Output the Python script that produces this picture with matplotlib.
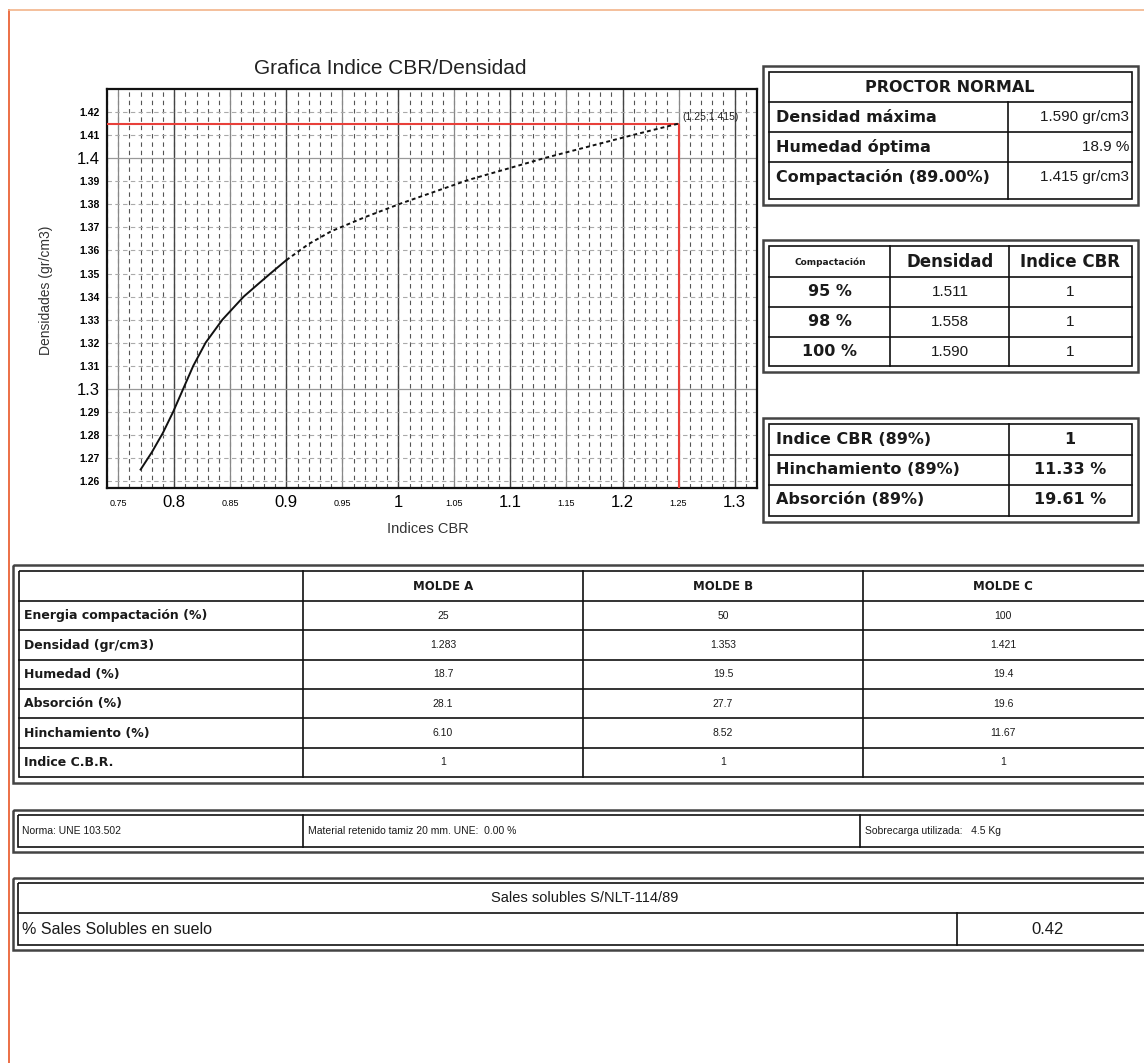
import matplotlib
matplotlib.use('Agg')
import matplotlib.pyplot as plt
from matplotlib.patches import Rectangle
import numpy as np

# curve CBR / densidad
cbr_x = [0.770, 0.780, 0.790, 0.799, 0.808, 0.817, 0.828, 0.843, 0.862, 0.875, 0.887,
         0.900, 0.920, 0.940, 0.970, 1.003, 1.062, 1.130, 1.208, 1.250]
dens_y = [1.265, 1.2725, 1.281, 1.290, 1.300, 1.310, 1.320, 1.330, 1.340, 1.3455, 1.3505,
          1.3558, 1.3628, 1.3683, 1.3744, 1.3805, 1.3905, 1.4000, 1.4099, 1.4150]
n_solid = 12  # first points drawn as solid line, rest dotted
comp_cbr = 1.25
comp_dens = 1.415
comp_label = '(1.25;1.415)'

x_major = [0.8, 0.9, 1.0, 1.1, 1.2, 1.3]
x_major_lbl = ['0.8', '0.9', '1', '1.1', '1.2', '1.3']
x_minor = [0.75, 0.85, 0.95, 1.05, 1.15, 1.25]
x_minor_lbl = ['0.75', '0.85', '0.95', '1.05', '1.15', '1.25']
y_major = [1.3, 1.4]
y_major_lbl = ['1.3', '1.4']
y_minor = [1.26, 1.27, 1.28, 1.29, 1.31, 1.32, 1.33, 1.34, 1.35, 1.36, 1.37, 1.38, 1.39, 1.41, 1.42]

proctor_labels = ['Densidad máxima', 'Humedad óptima', 'Compactación (89.00%)']
proctor_values = ['1.590 gr/cm3', '18.9 %', '1.415 gr/cm3']

comp_pct = ['95 %', '98 %', '100 %']
comp_dens_vals = ['1.511', '1.558', '1.590']
comp_cbr_vals = ['1', '1', '1']

res_labels = ['Indice CBR (89%)', 'Hinchamiento (89%)', 'Absorción (89%)']
res_values = ['1', '11.33 %', '19.61 %']

molde_names = ['MOLDE A', 'MOLDE B', 'MOLDE C']
molde_rows = ['Energia compactación (%)', 'Densidad (gr/cm3)', 'Humedad (%)',
              'Absorción (%)', 'Hinchamiento (%)', 'Indice C.B.R.']
molde_a = ['25', '1.283', '18.7', '28.1', '6.10', '1']
molde_b = ['50', '1.353', '19.5', '27.7', '8.52', '1']
molde_c = ['100', '1.421', '19.4', '19.6', '11.67', '1']

norma_texts = ['Norma: UNE 103.502', 'Material retenido tamiz 20 mm. UNE:  0.00 %',
               'Sobrecarga utilizada:   4.5 Kg']
sales_title = 'Sales solubles S/NLT-114/89'
sales_label = '% Sales Solubles en suelo'
sales_value = '0.42'

W, H = 1144, 1063
SANS = 'Liberation Sans'
BOLD = 'DejaVu Sans'

fig = plt.figure(figsize=(W / 100, H / 100), dpi=100)
bg = fig.add_axes([0, 0, 1, 1])
bg.set_xlim(0, W)
bg.set_ylim(H, 0)
bg.axis('off')

# scan page border
bg.plot([9, 9], [10, H], color='#ec6f45', lw=1.4)
bg.plot([9, W], [10, 10], color='#f2b48a', lw=1.2)

# ---------------- chart ----------------
ax = fig.add_axes([107 / W, 1 - 488 / H, 650 / W, 399 / H])
ax.set_xlim(0.74, 1.32)
ax.set_ylim(1.257, 1.43)

for v in np.arange(0.74, 1.3201, 0.01):
    ax.axvline(v, color='#555555', lw=0.8, ls=(0, (4, 3.5)), zorder=0)
ax.set_xticks(x_major, x_major_lbl)
ax.set_xticks(x_minor, x_minor_lbl, minor=True)
ax.set_yticks(y_major, y_major_lbl)
ax.set_yticks(y_minor, [f'{v:.2f}' for v in y_minor], minor=True)
ax.grid(which='major', axis='x', color='#444444', lw=1.0)
ax.grid(which='minor', axis='x', color='#888888', lw=0.9)
ax.grid(which='major', axis='y', color='#999999', lw=0.9)
ax.grid(which='minor', axis='y', color='#aaaaaa', lw=0.8, ls=(0, (4, 3)))
ax.set_axisbelow(True)
ax.tick_params(which='both', length=0)
ax.tick_params(axis='x', which='major', labelsize=12, pad=5)
ax.tick_params(axis='x', which='minor', labelsize=6.5, pad=8)
ax.tick_params(axis='y', which='major', labelsize=12, pad=5)
ax.tick_params(axis='y', which='minor', labelsize=7.5, pad=5)
for lbl in ax.get_xticklabels(which='both') + ax.get_yticklabels(which='both'):
    lbl.set_family(SANS)
for lbl in ax.get_yticklabels(minor=True):
    lbl.set_fontweight('bold')
for s in ax.spines.values():
    s.set_linewidth(1.6)
    s.set_color('#111111')

x0 = ax.get_xlim()[0]
y0 = ax.get_ylim()[0]
ax.hlines(comp_dens, x0, comp_cbr, color='#e8403a', lw=1.5, zorder=3)
ax.vlines(comp_cbr, y0, comp_dens, color='#e8403a', lw=1.5, zorder=3)
ax.plot(cbr_x[:n_solid], dens_y[:n_solid], color='#111111', lw=1.4, zorder=4)
ax.plot(cbr_x[n_solid - 1:], dens_y[n_solid - 1:], color='#111111', lw=1.4,
        ls=(0, (2, 1.6)), zorder=4)
ax.text(comp_cbr + 0.003, comp_dens + 0.0008, comp_label, fontsize=7.5, family=SANS,
        ha='left', va='bottom', color='#222222')

bg.text(390, 69, 'Grafica Indice CBR/Densidad', fontsize=15, family=SANS,
        ha='center', va='center', color='#222222')
bg.text(46, 290, 'Densidades (gr/cm3)', fontsize=10, family=SANS, rotation=90,
        ha='center', va='center', color='#333333')
bg.text(428, 529, 'Indices CBR', fontsize=10.5, family=SANS,
        ha='center', va='center', color='#333333')


# ---------------- tables ----------------
def frame(xa, ya, xb, yb, g=6):
    bg.add_patch(Rectangle((xa, ya), xb - xa, yb - ya, fill=False, lw=1.8, ec='#444444'))
    bg.add_patch(Rectangle((xa + g, ya + g), xb - xa - 2 * g, yb - ya - 2 * g,
                           fill=False, lw=1.2, ec='#111111'))


def hl(y, xa, xb, lw=1.2):
    bg.plot([xa, xb], [y, y], color='#111111', lw=lw)


def vl(x, ya, yb, lw=1.2):
    bg.plot([x, x], [ya, yb], color='#111111', lw=lw)


def txt(x, y, s, size=11, bold=False, ha='left'):
    bg.text(x, y, s, fontsize=size, ha=ha, va='center', color='#1a1a1a',
            family=BOLD if bold else SANS, fontweight='bold' if bold else 'normal')


# PROCTOR NORMAL
frame(763, 66, 1138, 205)
hl(102, 769, 1132)
for y in (132, 162):
    hl(y, 769, 1132)
vl(1008, 102, 199)
txt(950, 87, 'PROCTOR NORMAL', 11.5, True, 'center')
for i, (lab, val) in enumerate(zip(proctor_labels, proctor_values)):
    yc = 117 + 30 * i
    txt(776, yc, lab, 11.5, True)
    txt(1129, yc, val, 11, False, 'right')

# Compactacion / Densidad / Indice CBR
frame(763, 240, 1138, 372)
for y in (277, 307, 337):
    hl(y, 769, 1132)
vl(890, 246, 366)
vl(1009, 246, 366)
txt(830, 262, 'Compactación', 6.5, True, 'center')
txt(950, 262, 'Densidad', 12, True, 'center')
txt(1070, 262, 'Indice CBR', 12, True, 'center')
for i in range(len(comp_pct)):
    yc = 292 + 30 * i
    txt(830, yc, comp_pct[i], 11.5, True, 'center')
    txt(950, yc, comp_dens_vals[i], 11, False, 'center')
    txt(1070, yc, comp_cbr_vals[i], 11, False, 'center')

# results at 89 %
frame(763, 418, 1138, 522)
for y in (455, 485):
    hl(y, 769, 1132)
vl(1009, 424, 516)
for i, (lab, val) in enumerate(zip(res_labels, res_values)):
    yc = 440 + 30 * i
    txt(776, yc, lab, 11.5, True)
    txt(1070, yc, val, 11.5, True, 'center')

# moldes table
frame(13, 565, 1160, 783)
row_top = 601
row_h = (777 - 601) / 6
hl(row_top, 19, 1150)
for i in range(1, 6):
    hl(row_top + row_h * i, 19, 1150)
col_edges = [303, 583, 863, 1143]
for x in col_edges[:3]:
    vl(x, 571, 777)
for j, name in enumerate(molde_names):
    xc = (col_edges[j] + col_edges[j + 1]) / 2
    txt(xc, 587, name, 8.5, True, 'center')
for i, lab in enumerate(molde_rows):
    yc = row_top + row_h * (i + 0.5)
    txt(24, yc, lab, 9, True)
    for j, col in enumerate((molde_a, molde_b, molde_c)):
        xc = (col_edges[j] + col_edges[j + 1]) / 2
        txt(xc, yc, col[i], 7.5, False, 'center')

# norma row
frame(13, 810, 1160, 852, g=5)
vl(303, 815, 847)
vl(860, 815, 847)
for x, s in zip((22, 308, 865), norma_texts):
    txt(x, 831, s, 7.5)

# sales solubles
frame(13, 878, 1160, 950, g=5)
hl(913, 18, 1150)
vl(957, 913, 945)
txt(585, 898, sales_title, 10.5, False, 'center')
txt(22, 929, sales_label, 11.5)
txt(1048, 929, sales_value, 12, False, 'center')

fig.savefig('out.png', dpi=100)
